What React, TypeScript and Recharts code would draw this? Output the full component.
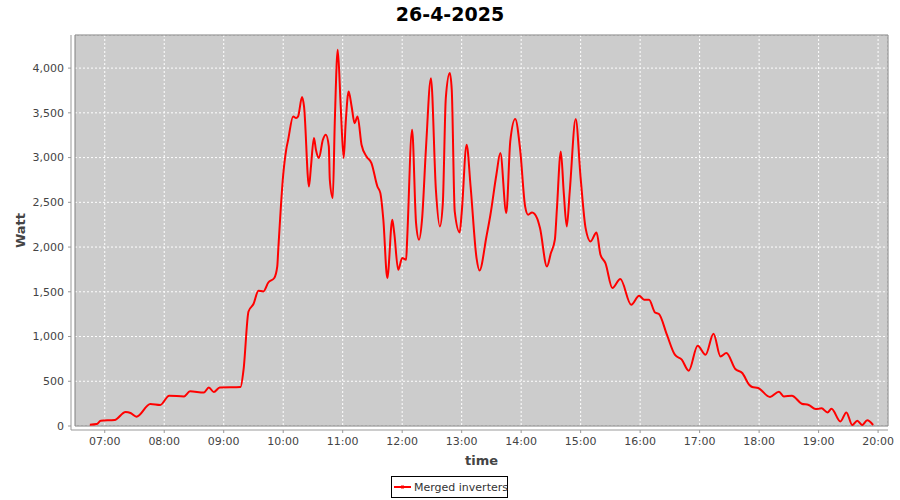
import React from "react";
import {
  LineChart,
  Line,
  XAxis,
  YAxis,
  CartesianGrid,
  ReferenceArea,
  Legend,
} from "recharts";

// minutes since midnight
const minutes: number[] = [
  405, 412, 416, 430, 441, 446, 452, 466, 476, 485, 500, 506, 520, 525, 530,
  536, 557, 560, 565, 570, 575, 580, 585, 591, 594, 595, 600, 603, 605, 610,
  613, 615, 619, 621, 626, 628, 631, 633, 636, 640, 643, 646, 647, 650, 652,
  655, 658, 661, 663, 666, 669, 672, 675, 679, 684, 689, 695, 698, 701, 705,
  710, 712, 716, 720, 724, 725, 730, 734, 737, 740, 744, 749, 754, 758, 761,
  764, 768, 770, 773, 778, 780, 785, 789, 795, 798, 805, 809, 815, 819, 825,
  829, 834, 839, 844, 847, 851, 856, 859, 866, 870, 874, 876, 880, 883, 886,
  889, 895, 900, 905, 910, 916, 920, 925, 932, 940, 951, 959, 964, 969, 975,
  979, 987, 995, 1002, 1009, 1018, 1026, 1034, 1041, 1047, 1056, 1063, 1070,
  1073, 1079, 1091, 1100, 1105, 1113, 1123, 1130, 1137, 1143, 1149, 1153,
  1162, 1168, 1174, 1179, 1184, 1189, 1195,
];

const watts: number[] = [
  15, 22, 59, 67, 156, 145, 104, 246, 235, 339, 331, 387, 375, 431, 380,
  431, 436, 629, 1280, 1363, 1512, 1504, 1604, 1654, 1783, 1970, 2808, 3087,
  3199, 3459, 3441, 3459, 3676, 3571, 2677, 2900, 3218, 3087, 2994, 3199,
  3255, 3124, 2752, 2547, 3385, 4204, 3571, 2994, 3385, 3738, 3571, 3385,
  3459, 3143, 3012, 2938, 2677, 2603, 2305, 1654, 2305, 2156, 1746, 1877,
  1858, 2082, 3311, 2268, 2082, 2305, 3106, 3888, 2640, 2230, 2492, 3665,
  3944, 3757, 2398, 2163, 2380, 3143, 2677, 1877, 1739, 2118, 2361, 2808,
  3050, 2380, 3180, 3430, 3087, 2454, 2361, 2387, 2324, 2212, 1783, 1933,
  2082, 2417, 3068, 2603, 2230, 2621, 3430, 2771, 2212, 2063, 2163, 1914,
  1821, 1542, 1642, 1355, 1456, 1411, 1411, 1269, 1251, 1020, 797, 741, 618,
  897, 797, 1031, 778, 816, 637, 592, 461, 436, 425, 324, 383, 331, 339, 249,
  235, 190, 197, 152, 193, 51, 152, 11, 59, 11, 63, 11,
];

const hourTicks: number[] = [
  420, 480, 540, 600, 660, 720, 780, 840, 900, 960, 1020, 1080, 1140, 1200,
];
const wattTicks: number[] = [0, 500, 1000, 1500, 2000, 2500, 3000, 3500, 4000];

const title = "26-4-2025";
const seriesName = "Merged inverters";

const data = minutes.map((t, i) => ({ t, watt: watts[i] }));

const FONT = "'DejaVu Sans', sans-serif";
const xDomain = [390, 1210];
const yDomain = [0, 4370];

const fmtTime = (m: number) =>
  `${String(Math.floor(m / 60)).padStart(2, "0")}:${String(m % 60).padStart(2, "0")}`;

const YLabel = ({ viewBox }: any) => {
  const cx = 20;
  const cy = viewBox.y + viewBox.height / 2 - 2;
  return (
    <text
      x={cx}
      y={cy}
      transform={`rotate(-90 ${cx} ${cy})`}
      textAnchor="middle"
      dominantBaseline="central"
      fontFamily={FONT}
      fontWeight="bold"
      fontSize={13}
      fill="#444"
    >
      Watt
    </text>
  );
};

const XLabel = ({ viewBox }: any) => (
  <text
    x={viewBox.x + 4 + (viewBox.width - 4) / 2}
    y={465}
    textAnchor="middle"
    fontFamily={FONT}
    fontWeight="bold"
    fontSize={13}
    fill="#444"
  >
    time
  </text>
);

const renderLegend = () => (
  <div
    style={{
      boxSizing: "border-box",
      width: 117,
      height: 22,
      border: "1px solid #000",
      display: "flex",
      alignItems: "center",
      whiteSpace: "nowrap",
      overflow: "visible",
      fontFamily: FONT,
      fontSize: 11,
      color: "#333",
      background: "#fff",
    }}
  >
    <svg width={18} height={6} style={{ marginLeft: 2, marginRight: 2, flexShrink: 0 }}>
      <line x1={0} y1={3} x2={17} y2={3} stroke="#ff0000" strokeWidth={2} />
      <rect x={7} y={1.5} width={3} height={3} fill="#ff0000" />
    </svg>
    <span style={{ whiteSpace: "nowrap" }}>{seriesName}</span>
  </div>
);

export default function App() {
  return (
    <div
      style={{
        position: "absolute",
        left: 0,
        top: 0,
        width: 900,
        height: 500,
        background: "#fff",
      }}
    >
      <div
        style={{
          position: "absolute",
          top: 1,
          left: 0,
          width: 900,
          textAlign: "center",
          fontFamily: FONT,
          fontWeight: "bold",
          fontSize: 19,
          color: "#000",
          lineHeight: "26px",
        }}
      >
        {title}
      </div>
      <LineChart
        width={900}
        height={500}
        data={data}
        margin={{ top: 35, right: 12, bottom: 0, left: 0 }}
      >
        <ReferenceArea
          x1={xDomain[0]}
          x2={xDomain[1]}
          y1={yDomain[0]}
          y2={yDomain[1]}
          fill="#cccccc"
          fillOpacity={1}
          stroke="none"
          zIndex={-200}
        />
        <CartesianGrid stroke="#ffffff" strokeDasharray="2 2" strokeWidth={1} />
        <ReferenceArea
          x1={xDomain[0]}
          x2={xDomain[1]}
          y1={yDomain[0]}
          y2={yDomain[1]}
          fill="none"
          stroke="#808080"
          strokeWidth={1}
          ifOverflow="visible"
        />
        <XAxis
          dataKey="t"
          type="number"
          domain={xDomain}
          ticks={hourTicks}
          tickFormatter={fmtTime}
          height={70}
          padding={{ left: 4, right: 0 }}
          axisLine={{ stroke: "#999" }}
          tickLine={{ stroke: "#999" }}
          tickSize={3}
          tickMargin={4}
          tick={{ fill: "#444", fontFamily: FONT, fontSize: 11 }}
          allowDataOverflow
          label={<XLabel />}
        />
        <YAxis
          type="number"
          domain={yDomain}
          ticks={wattTicks}
          tickFormatter={(v: number) => v.toLocaleString("en-US")}
          width={71}
          padding={{ top: 0, bottom: 4 }}
          axisLine={{ stroke: "#999" }}
          tickLine={{ stroke: "#999" }}
          tickSize={3}
          tickMargin={4}
          tick={{ fill: "#444", fontFamily: FONT, fontSize: 11 }}
          allowDataOverflow
          label={<YLabel />}
        />
        <Legend
          layout="horizontal"
          verticalAlign="middle"
          align="center"
          content={renderLegend}
          wrapperStyle={{ top: 476, left: 391, width: 117, height: 22 }}
        />
        <Line
          type="monotone"
          dataKey="watt"
          name={seriesName}
          stroke="#ff0000"
          strokeWidth={2}
          dot={false}
          isAnimationActive={false}
        />
      </LineChart>
    </div>
  );
}
